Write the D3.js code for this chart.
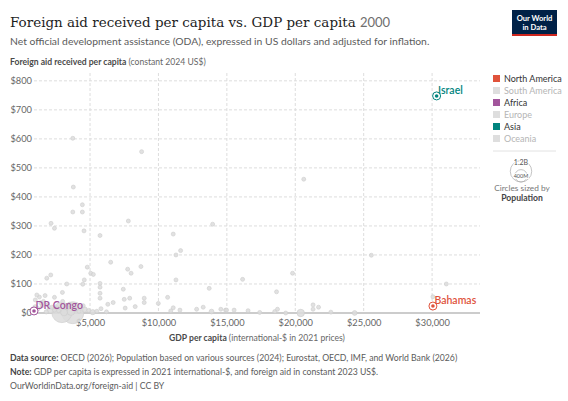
<!DOCTYPE html>
<html>
<head>
<meta charset="utf-8">
<script src="https://cdn.jsdelivr.net/npm/d3@7"></script>
<style>
  body { margin: 0; background: #fff; }
  svg { font-family: Lato, "Noto Sans", sans-serif; }
</style>
</head>
<body>
<svg id="chart" width="568" height="401"></svg>
<script>
// ---- data ----
// GDP per capita (int.-$ 2021), foreign aid per capita (US$), population (millions)
const greyGdp = [
  3740, 8770, 3780, 4440, 3740, 4440, 2150, 2400, 7800, 4560, 5730, 11080, 13960,
  6510, 4800, 8720, 7750, 8000, 5050, 5240, 2130, 1840, 11620, 11280,
  4580, 3300, 4470, 5730, 7430, 11280, 13710, 5730, 2980, 1110, 1715, 2400,
  5730, 5730, 8960, 7500, 7900, 8960, 10670, 9990, 11080, 11570, 10900, 12790,
  13270, 13880, 14560, 14980, 7570, 8300, 6690,
  20620, 25560, 16150, 19800, 18630, 31040, 30060, 15530, 16550, 14900, 17400,
  18500, 18700, 20400, 21300, 21700, 21300, 22600, 19300, 24340,
  3740, 2940, 3600, 3100, 2100, 3300, 4600, 1000, 1600, 1300, 3300, 1800, 2400,
  1200, 1000, 1500, 3000, 2200, 3500, 4000, 4500, 6300, 5800, 2700, 4200, 5200,
  1400, 1900, 2600, 3900, 4900, 5500, 6200
];
const greyAid = [
  602, 556, 434, 373, 348, 348, 309, 292, 317, 283, 267, 272, 306,
  175, 158, 160, 151, 137, 137, 133, 131, 120, 215, 200,
  114, 100, 99, 102, 82, 114, 85, 89, 71, 62, 60, 54,
  68, 51, 51, 47, 51, 36, 54, 33, 18, 10, 7, 13,
  20, 5, 13, 10, 17, 22, 36,
  461, 199, 116, 137, 73, 100, 56, 10, 8, 10, 2,
  5, 13, 0, 28, 20, 13, 3, 0, 0,
  1, 1.5, 5, 2, 10, 22, 12, 20, 40, 55, 20, 4, 10,
  15, 45, 25, 40, 20, 30, 14, 25, 30, 15, 8, 6, 3,
  35, 28, 18, 12, 9, 6, 4
];
const greyPop = [
  1, 1, 1, 1, 1, 1, 1, 1, 1, 1, 1, 1, 1,
  1, 1, 1, 1, 1, 1, 1, 1, 1, 1, 1,
  2, 2, 2, 1, 2, 1, 1, 1, 5, 10, 8, 10,
  2, 2, 2, 2, 2, 3, 2, 30, 5, 40, 5, 10,
  5, 60, 8, 4, 10, 10, 10,
  1, 1, 1, 1, 1, 1, 1, 40, 8, 8, 5,
  3, 3, 146, 4, 3, 3, 10, 3, 60,
  1262, 1057, 154, 122, 129, 80, 77, 67, 34, 24, 31, 46, 27,
  20, 18, 16, 19, 24, 16, 18, 17, 19, 29, 12, 40, 70,
  10, 14, 25, 45, 30, 35, 20
];

const labelNames = ["Israel", "DR Congo", "Bahamas"];
const labelContinents = ["Asia", "Africa", "North America"];
const labelGdp = [30330, 905, 30060];
const labelAid = [748, 7, 24];
const labelPop = [6.3, 47, 0.3];

const continents = ["North America", "South America", "Africa", "Europe", "Asia", "Oceania"];
const xTicks = [5000, 10000, 15000, 20000, 25000, 30000];
const yTicks = [0, 100, 200, 300, 400, 500, 600, 700, 800];
const sizeLegend = [1200, 400];
const sizeLegendLabels = ["1.2B", "400M"];

// ---- styles ----
const colors = { "North America": "#e0533b", "Africa": "#a2559c", "Asia": "#00847e" };
const active = new Set(labelContinents);

const svg = d3.select("#chart");

const x = d3.scaleLinear().domain([905, 33500]).range([34, 480]);
const y = d3.scaleLinear().domain([0, 827]).range([313, 73]);
const r = d3.scaleSqrt().domain([0, 1262]).range([0, 11]);

// title
const title = svg.append("text")
    .attr("x", 10).attr("y", 27)
    .attr("font-family", "'DejaVu Serif', serif")
    .attr("font-size", 17)
    .attr("fill", "#1d1d1d")
    .text("Foreign aid received per capita vs. GDP per capita");
// squeeze the serif fallback to the width of the original title
const tw = title.node().getComputedTextLength();
title.attr("font-size", 17 * 346 / tw);

svg.append("text")
    .attr("x", 360).attr("y", 27)
    .attr("font-size", 13)
    .attr("fill", "#6e6e6e")
    .text("2000");

svg.append("text")
    .attr("x", 10).attr("y", 45)
    .attr("font-size", 10.35)
    .attr("fill", "#5b5b5b")
    .text("Net official development assistance (ODA), expressed in US dollars and adjusted for inflation.");

// logo
const logo = svg.append("g");
logo.append("rect").attr("x", 512).attr("y", 10).attr("width", 45).attr("height", 26).attr("fill", "#002147");
logo.append("rect").attr("x", 512).attr("y", 34).attr("width", 45).attr("height", 2).attr("fill", "#ce261e");
logo.append("text").attr("x", 534.5).attr("y", 20.5).attr("text-anchor", "middle")
    .attr("font-size", 7.6).attr("font-weight", 700).attr("fill", "#fff").text("Our World");
logo.append("text").attr("x", 534.5).attr("y", 29.5).attr("text-anchor", "middle")
    .attr("font-size", 7.6).attr("font-weight", 700).attr("fill", "#fff").text("in Data");

// y axis title
const yt = svg.append("text").attr("x", 10).attr("y", 65).attr("font-size", 8.6);
yt.append("tspan").attr("font-weight", 700).attr("fill", "#4a4a4a").text("Foreign aid received per capita ");
yt.append("tspan").attr("fill", "#666").text("(constant 2024 US$)");

// grid
svg.append("g")
    .selectAll("line")
    .data(yTicks.filter(d => d > 0))
    .join("line")
    .attr("x1", 34).attr("x2", 480)
    .attr("y1", d => y(d)).attr("y2", d => y(d))
    .attr("stroke", "#dddddd").attr("stroke-dasharray", "3,2");

svg.append("g")
    .selectAll("line")
    .data(xTicks)
    .join("line")
    .attr("x1", d => x(d)).attr("x2", d => x(d))
    .attr("y1", 73).attr("y2", 313)
    .attr("stroke", "#dddddd").attr("stroke-dasharray", "3,2");

// y axis labels
const yAxis = svg.append("g")
    .attr("transform", "translate(32,0)")
    .call(d3.axisLeft(y).tickValues(yTicks).tickSize(0).tickPadding(0)
        .tickFormat(d => "$" + d3.format(",")(d)));
yAxis.select(".domain").remove();
yAxis.selectAll("text").attr("font-family", "Lato").attr("font-size", 9.3).attr("fill", "#666");

// x axis
svg.append("line")
    .attr("x1", 34).attr("x2", 480).attr("y1", 313).attr("y2", 313)
    .attr("stroke", "#999").attr("stroke-width", 1);

const xAxis = svg.append("g")
    .attr("transform", "translate(0,313)")
    .call(d3.axisBottom(x).tickValues(xTicks).tickSize(0).tickPadding(6)
        .tickFormat(d => "$" + d3.format(",")(d)));
xAxis.select(".domain").remove();
xAxis.selectAll("text").attr("font-family", "Lato").attr("font-size", 9.3).attr("fill", "#666");

const xt = svg.append("text").attr("x", 257).attr("y", 341)
    .attr("text-anchor", "middle").attr("font-size", 8.6);
xt.append("tspan").attr("font-weight", 700).attr("fill", "#4a4a4a").text("GDP per capita ");
xt.append("tspan").attr("fill", "#666").text("(international-$ in 2021 prices)");

// grey points (biggest first so small ones stay visible)
const grey = greyGdp.map((g, i) => ({ gdp: g, aid: greyAid[i], pop: greyPop[i] }))
    .sort((a, b) => b.pop - a.pop);

svg.append("g")
    .selectAll("circle")
    .data(grey)
    .join("circle")
    .attr("cx", d => x(d.gdp))
    .attr("cy", d => y(d.aid))
    .attr("r", d => Math.max(2, r(d.pop)))
    .attr("fill", "#dcdcdc")
    .attr("fill-opacity", 0.85)
    .attr("stroke", "#cccccc")
    .attr("stroke-width", 0.6);

// highlighted countries
const hi = labelNames.map((n, i) => ({
    name: n, cont: labelContinents[i], gdp: labelGdp[i], aid: labelAid[i], pop: labelPop[i]
}));

const hg = svg.append("g").selectAll("g").data(hi).join("g");
hg.append("circle")
    .attr("cx", d => x(d.gdp)).attr("cy", d => y(d.aid))
    .attr("r", 4)
    .attr("fill", "#fff")
    .attr("stroke", d => colors[d.cont]).attr("stroke-width", 1);
hg.append("circle")
    .attr("cx", d => x(d.gdp)).attr("cy", d => y(d.aid))
    .attr("r", 1.8)
    .attr("fill", d => colors[d.cont]);
hg.append("text")
    .attr("x", d => x(d.gdp) + 1.5)
    .attr("y", d => y(d.aid) - 2)
    .attr("font-size", 10.5)
    .attr("font-weight", 600)
    .attr("fill", d => colors[d.cont])
    .text(d => d.name);

// colour legend
const lg = svg.append("g").selectAll("g").data(continents).join("g")
    .attr("transform", (d, i) => `translate(493,${79 + i * 12})`);
lg.append("rect")
    .attr("x", 0).attr("y", -4).attr("width", 7).attr("height", 7)
    .attr("fill", d => active.has(d) ? colors[d] : "#dedede");
lg.append("text")
    .attr("x", 11).attr("y", 3)
    .attr("font-size", 9)
    .attr("fill", d => active.has(d) ? "#333" : "#b5b5b5")
    .text(d => d);

svg.append("line")
    .attr("x1", 493).attr("x2", 556).attr("y1", 151).attr("y2", 151)
    .attr("stroke", "#e2e2e2");

// size legend
const sl = svg.append("g");
const baseY = 182, cx = 521;
sl.selectAll("circle")
    .data(sizeLegend)
    .join("circle")
    .attr("cx", cx)
    .attr("cy", d => baseY - r(d))
    .attr("r", d => r(d))
    .attr("fill", "none")
    .attr("stroke", "#aaa")
    .attr("stroke-width", 0.7);
sl.selectAll("text")
    .data(sizeLegend)
    .join("text")
    .attr("x", cx)
    .attr("y", (d, i) => i === 0 ? baseY - 2 * r(d) + 4 : baseY - r(d) + 2)
    .attr("text-anchor", "middle")
    .attr("font-size", (d, i) => i === 0 ? 7 : 5.5)
    .attr("fill", "#555")
    .attr("paint-order", "stroke")
    .attr("stroke", "#fff").attr("stroke-width", 2)
    .text((d, i) => sizeLegendLabels[i]);
svg.append("text").attr("x", 522).attr("y", 191).attr("text-anchor", "middle")
    .attr("font-size", 8.3).attr("fill", "#777").text("Circles sized by");
svg.append("text").attr("x", 522).attr("y", 201).attr("text-anchor", "middle")
    .attr("font-size", 8.6).attr("font-weight", 700).attr("fill", "#444").text("Population");

// footer
const f1 = svg.append("text").attr("x", 10).attr("y", 361).attr("font-size", 8.7).attr("fill", "#5b5b5b");
f1.append("tspan").attr("font-weight", 700).attr("fill", "#444").text("Data source: ");
f1.append("tspan").text("OECD (2026); Population based on various sources (2024); Eurostat, OECD, IMF, and World Bank (2026)");
const f2 = svg.append("text").attr("x", 10).attr("y", 375).attr("font-size", 8.7).attr("fill", "#5b5b5b");
f2.append("tspan").attr("font-weight", 700).attr("fill", "#444").text("Note: ");
f2.append("tspan").text("GDP per capita is expressed in 2021 international-$, and foreign aid in constant 2023 US$.");
svg.append("text").attr("x", 10).attr("y", 389).attr("font-size", 8.7).attr("fill", "#5b5b5b")
    .text("OurWorldinData.org/foreign-aid | CC BY");
</script>
</body>
</html>
